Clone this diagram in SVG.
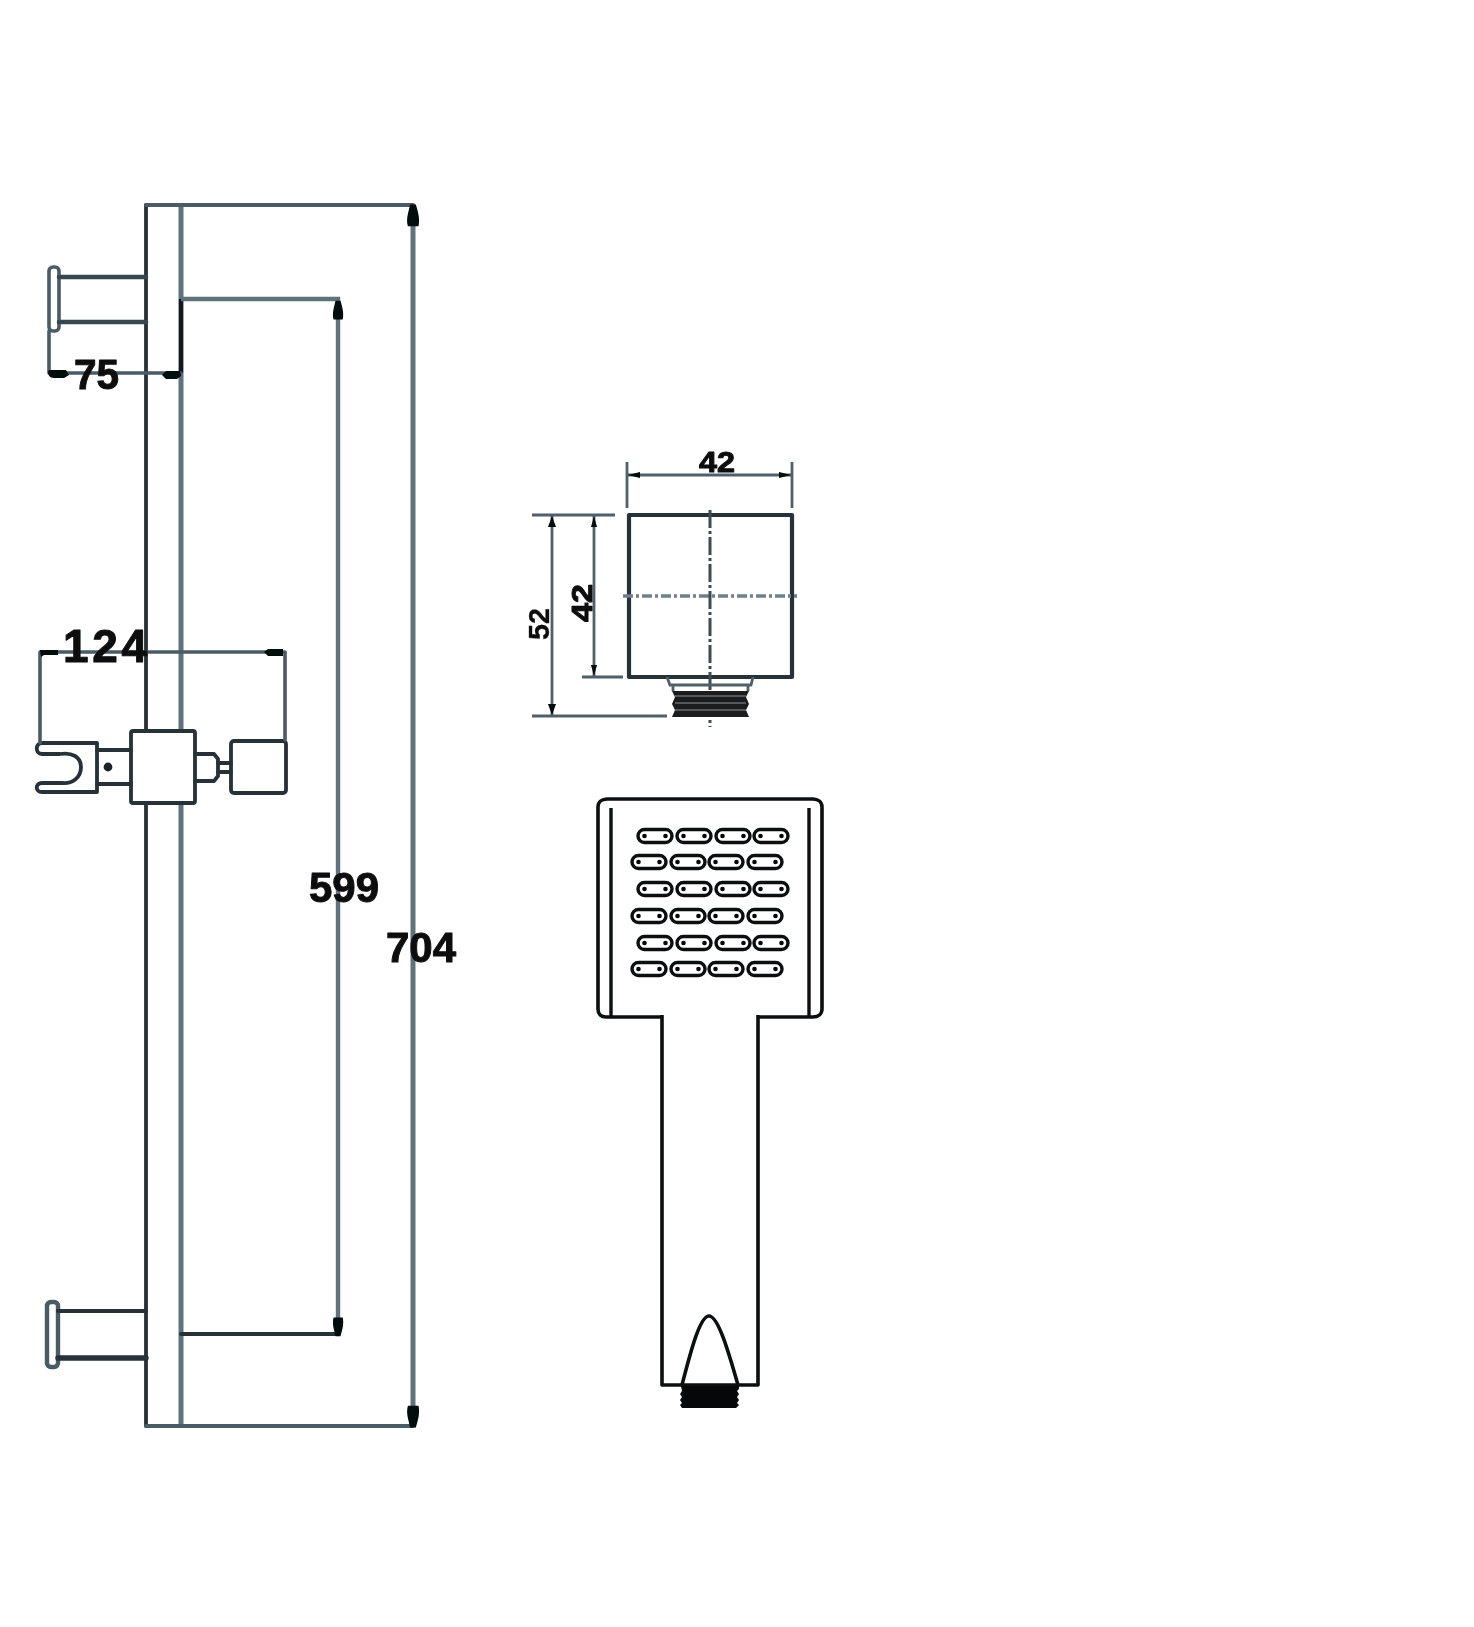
<svg xmlns="http://www.w3.org/2000/svg" width="1474" height="1627" viewBox="0 0 1474 1627">
<style>
.l{fill:none;stroke:#4a5c65;stroke-width:3.6;stroke-linecap:round;stroke-linejoin:round}
.g{fill:none;stroke:#5f737d;stroke-width:5}
.d{fill:none;stroke:#263238;stroke-width:3.8;stroke-linecap:round;stroke-linejoin:round}
.m{fill:none;stroke:#4f6069;stroke-width:2.8}
.k{fill:none;stroke:#0c0f10;stroke-width:3.6;stroke-linejoin:round}
.s{fill:none;stroke:#0c0f10;stroke-width:3.4}
.c{fill:none;stroke:#6f8088;stroke-width:3.4;stroke-dasharray:10 3 3 3}
.a{fill:#050708}
.t{font-family:"Liberation Sans",Arial,sans-serif;font-weight:700;fill:#0c0e0f;stroke:#0c0e0f;stroke-width:1;stroke-linejoin:round}
.big{font-size:43px}
.mid{font-size:30px}
</style>
<defs>
<filter id="soft" x="-5%" y="-5%" width="110%" height="110%"><feGaussianBlur stdDeviation="0.55"/></filter>
<path id="tipU" d="M-3.5 14 C-5 9 -3 4 -2 -1 L2 -1 C3 3 5 8 3.8 14 Z"/>
<g id="slot"><rect x="0" y="-6.5" width="34" height="13" rx="6.5" class="s"/><circle cx="6.5" cy="0" r="2.3" class="a"/><circle cx="27.5" cy="0" r="2.3" class="a"/></g>
</defs>
<rect width="1474" height="1627" fill="#fff"/>
<g id="slide-rail" filter="url(#soft)">
<path class="d" d="M146 205V731M146 803V1426"/>
<path class="g" d="M181 205V731M181 803V1426"/>
<path class="l" d="M146 205H413M146 1426H413" style="stroke-width:4"/>
<path d="M181 299V373" fill="none" stroke="#14191c" stroke-width="4.2"/>
</g>
<g id="bracket-top" filter="url(#soft)">
<rect x="49" y="267" width="10" height="64" rx="4" class="l"/>
<path class="d" d="M59 277H146M59 322H146" style="stroke-width:4.6;stroke:#37474f"/>
</g>
<g id="bracket-bottom" filter="url(#soft)">
<rect x="47" y="1302" width="11" height="65" rx="4" class="l" style="stroke-width:4.4"/>
<path class="d" d="M58 1311H146" style="stroke-width:4.2"/>
<path class="d" d="M58 1358H146" style="stroke-width:5.4"/>
</g>
<g id="slider" filter="url(#soft)">
<rect x="131" y="731" width="64" height="72" rx="2" class="d"/>
<path class="d" d="M97 750H131M97 784H131"/>
<circle cx="108" cy="767" r="4.4" fill="#1c2225"/>
<path class="d" d="M97 743H42C35 743 35 754 42 754H60C72 752 81 757 81 767C81 778 72 784 62 783H42C35 783 35 792 42 792H97Z"/>
<path class="d" d="M195 754H214L218 759V776L214 781H195"/>
<path class="d" d="M218 763H231M218 772H231"/>
<rect x="231" y="741" width="55" height="52" rx="3" class="d"/>
</g>
<g id="connectors" filter="url(#soft)">
<path class="l" d="M49 331V373H181"/>
<path class="g" d="M181 299H338V1334" style="stroke-width:4.4"/>
<path class="d" d="M181 1334H338"/>
<path class="g" d="M413 205V1426"/>
<path class="l" d="M40 743V652H285V740"/>
<use href="#tipU" class="a" transform="translate(338 302) scale(1.25)"/>
<use href="#tipU" class="a" transform="translate(338 1335) scale(1.25 -1.25)"/>
<use href="#tipU" class="a" transform="translate(413 206) scale(1.45)"/>
<use href="#tipU" class="a" transform="translate(413 1426) scale(1.45 -1.45)"/>
<path class="a" d="M49 370H66L69 375L64 378H54C50 378 48 375 48 372Z"/>
<path class="a" d="M180 371H166L162 375L166 379H177L181 376Z"/>
<path class="a" d="M40 650H58V655H44L41 657Z"/>
<path class="a" d="M283 649H268L264 652L268 656H283Z"/>
<path class="m" d="M627 462V508M792 462V508M627 475H792"/>
<path class="m" d="M532 515H615M532 716H667M582 677H623"/>
<path class="m" d="M552 515V716M594 515V677"/>
<path class="a" d="M552 516L556 527H548ZM552 715L556 704H548ZM594 516L597 527H591ZM594 676L597 665H591ZM628 475L640 472V478ZM791 475L779 472V478Z"/>
</g>
<g id="wall-outlet" filter="url(#soft)">
<rect x="629" y="515" width="163" height="162" class="d" style="stroke-width:4.2"/>
<path class="c" d="M623 596H797"/>
<path d="M710 510V727" fill="none" stroke="#3d4c54" stroke-width="3" stroke-dasharray="18 3 3 3"/>
<path class="m" d="M667 677L670 685H751L753 677M673 685V691M748 685V691"/>
<path d="M672 691H749L746 697L749 704L746 710L749 717H672L675 710L672 704L675 697Z" fill="#1a1d1e"/>
<path d="M675 696H746M675 703H746M675 710H746" stroke="#8a9499" stroke-width="1.2" fill="none"/>
</g>
<g id="hand-shower">
<path class="k" d="M662 1017H606C601 1017 598 1014 598 1009V807C598 802 602 799 607 799H813C818 799 822 802 822 807V1009C822 1014 818 1017 813 1017H758"/>
<path class="s" d="M611 808V1017M809 808V1017"/>
<path class="k" d="M662 1015V1385H758V1015"/>
<path class="k" d="M682 1385C691 1350 700 1316 709 1316C718 1316 728 1350 738 1385"/>
<path d="M681 1386H739V1389L737 1391L739 1394L737 1397L739 1400L737 1403L739 1405L736 1408H682L680 1405L682 1403L680 1400L682 1397L680 1394L682 1391Z" fill="#050708"/>
<use href="#slot" x="638" y="836"/><use href="#slot" x="677" y="836"/><use href="#slot" x="716" y="836"/><use href="#slot" x="754" y="836"/>
<use href="#slot" x="632" y="862"/><use href="#slot" x="671" y="862"/><use href="#slot" x="709" y="862"/><use href="#slot" x="748" y="862"/>
<use href="#slot" x="638" y="889"/><use href="#slot" x="677" y="889"/><use href="#slot" x="716" y="889"/><use href="#slot" x="754" y="889"/>
<use href="#slot" x="632" y="916"/><use href="#slot" x="671" y="916"/><use href="#slot" x="709" y="916"/><use href="#slot" x="748" y="916"/>
<use href="#slot" x="638" y="943"/><use href="#slot" x="677" y="943"/><use href="#slot" x="716" y="943"/><use href="#slot" x="754" y="943"/>
<use href="#slot" x="632" y="969"/><use href="#slot" x="671" y="969"/><use href="#slot" x="709" y="969"/><use href="#slot" x="748" y="969"/>
</g>
<g id="labels" filter="url(#soft)">
<text class="t big" x="74" y="389" textLength="45" lengthAdjust="spacingAndGlyphs">75</text>
<text class="t" x="63" y="662" font-size="46" textLength="84" lengthAdjust="spacing">124</text>
<text class="t big" x="309" y="902" textLength="70" lengthAdjust="spacingAndGlyphs">599</text>
<text class="t big" x="386" y="962" textLength="70" lengthAdjust="spacingAndGlyphs">704</text>
<text class="t mid" x="699" y="472" textLength="36" lengthAdjust="spacingAndGlyphs">42</text>
<text class="t mid" transform="translate(592 622) rotate(-90)" textLength="38" lengthAdjust="spacingAndGlyphs">42</text>
<text class="t mid" transform="translate(549 640) rotate(-90)" style="stroke-width:.3" textLength="32" lengthAdjust="spacingAndGlyphs">52</text>
</g>
</svg>
